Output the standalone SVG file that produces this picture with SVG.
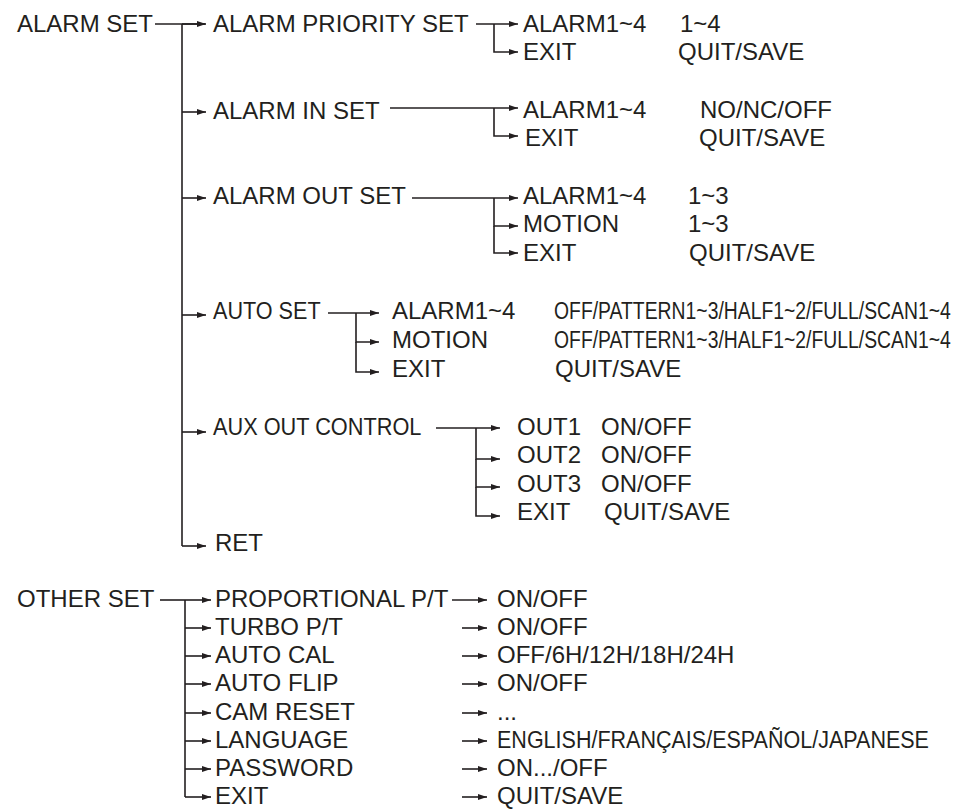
<svg xmlns="http://www.w3.org/2000/svg" width="963" height="809" viewBox="0 0 963 809">
<defs>
<marker id="ah" markerUnits="userSpaceOnUse" markerWidth="10" markerHeight="8" refX="9" refY="3" orient="auto">
<path d="M0,0 L9,3 L0,6 z" fill="#231f20"/>
</marker>
</defs>
<style>
text{font-family:"Liberation Sans",Arial,Helvetica,sans-serif;font-size:24px;fill:#231f20}
.c path,.c line{fill:none;stroke:#231f20;stroke-width:1.6}
.a{marker-end:url(#ah)}
</style>
<rect width="963" height="809" fill="#fff"/>
<g class="c" id="connectors">
<path d="M155,24 H205"/>
<path d="M182,24 V546"/>
<path class="a" d="M182,24 H206"/>
<path class="a" d="M182,112 H206"/>
<path class="a" d="M182,198 H206"/>
<path class="a" d="M182,315 H206"/>
<path class="a" d="M182,432 H206"/>
<path class="a" d="M182,546 H206"/>
<path class="a" d="M476,24 H518"/>
<path class="a" d="M494,24 V52 H518"/>
<path class="a" d="M390,108 H518"/>
<path class="a" d="M494,108 V136 H518"/>
<path class="a" d="M412,198 H518"/>
<path class="a" d="M494,198 V226 H518"/>
<path class="a" d="M494,226 V253 H518"/>
<path class="a" d="M328,313 H379"/>
<path class="a" d="M356,313 V342 H379"/>
<path class="a" d="M356,342 V372 H379"/>
<path class="a" d="M436,428 H500"/>
<path class="a" d="M476,428 V459 H500"/>
<path class="a" d="M476,459 V487 H500"/>
<path class="a" d="M476,487 V516 H500"/>
<path d="M160,600 H185"/>
<path d="M185,600 V797"/>
<path class="a" d="M185,600 H211"/>
<path class="a" d="M185,628 H211"/>
<path class="a" d="M185,656 H211"/>
<path class="a" d="M185,684 H211"/>
<path class="a" d="M185,713 H211"/>
<path class="a" d="M185,741 H211"/>
<path class="a" d="M185,769 H211"/>
<path class="a" d="M185,797 H211"/>
<path class="a" d="M452,600 H487"/>
<path class="a" d="M462,628 H487"/>
<path class="a" d="M462,656 H487"/>
<path class="a" d="M462,684 H487"/>
<path class="a" d="M462,713 H487"/>
<path class="a" d="M462,741 H487"/>
<path class="a" d="M462,769 H487"/>
<path class="a" d="M462,797 H487"/>
</g>
<g id="alarm-set"><text x="17" y="32">ALARM SET</text></g>
<g id="alarm-priority-set"><text x="213" y="32">ALARM PRIORITY SET</text></g>
<g id="aps-alarm"><text x="523" y="32">ALARM1~4</text><text x="680" y="32">1~4</text></g>
<g id="aps-exit"><text x="523" y="60">EXIT</text><text x="678" y="60">QUIT/SAVE</text></g>
<g id="alarm-in-set"><text x="213" y="119">ALARM IN SET</text></g>
<g id="ais-alarm"><text x="523" y="118">ALARM1~4</text><text x="700" y="118">NO/NC/OFF</text></g>
<g id="ais-exit"><text x="525" y="146">EXIT</text><text x="699" y="146">QUIT/SAVE</text></g>
<g id="alarm-out-set"><text x="213" y="204">ALARM OUT SET</text></g>
<g id="aos-alarm"><text x="523" y="204">ALARM1~4</text><text x="688" y="204">1~3</text></g>
<g id="aos-motion"><text x="523" y="232">MOTION</text><text x="688" y="232">1~3</text></g>
<g id="aos-exit"><text x="523" y="261">EXIT</text><text x="689" y="261">QUIT/SAVE</text></g>
<g id="auto-set"><text transform="translate(213,319) scale(0.9,1)">AUTO SET</text></g>
<g id="as-alarm"><text x="392" y="319">ALARM1~4</text><text transform="translate(554,319) scale(0.807,1)">OFF/PATTERN1~3/HALF1~2/FULL/SCAN1~4</text></g>
<g id="as-motion"><text x="392" y="348">MOTION</text><text transform="translate(554,348) scale(0.807,1)">OFF/PATTERN1~3/HALF1~2/FULL/SCAN1~4</text></g>
<g id="as-exit"><text x="392" y="377">EXIT</text><text x="555" y="377">QUIT/SAVE</text></g>
<g id="aux-out-control"><text transform="translate(213,435) scale(0.906,1)">AUX OUT CONTROL</text></g>
<g id="aux-out1"><text x="517" y="435">OUT1</text><text x="601" y="435">ON/OFF</text></g>
<g id="aux-out2"><text x="517" y="463">OUT2</text><text x="601" y="463">ON/OFF</text></g>
<g id="aux-out3"><text x="517" y="492">OUT3</text><text x="601" y="492">ON/OFF</text></g>
<g id="aux-exit"><text x="517" y="520">EXIT</text><text x="604" y="520">QUIT/SAVE</text></g>
<g id="ret"><text x="215" y="551">RET</text></g>
<g id="other-set"><text x="17" y="607">OTHER SET</text></g>
<g id="proportional"><text x="215" y="607">PROPORTIONAL P/T</text></g>
<g id="turbo"><text x="215" y="635">TURBO P/T</text></g>
<g id="auto-cal"><text x="215" y="663">AUTO CAL</text></g>
<g id="auto-flip"><text x="215" y="691">AUTO FLIP</text></g>
<g id="cam-reset"><text x="215" y="720">CAM RESET</text></g>
<g id="language"><text x="215" y="748">LANGUAGE</text></g>
<g id="password"><text x="215" y="776">PASSWORD</text></g>
<g id="os-exit"><text x="215" y="804">EXIT</text></g>
<g id="v-proportional"><text x="497" y="607">ON/OFF</text></g>
<g id="v-turbo"><text x="497" y="635">ON/OFF</text></g>
<g id="v-auto-cal"><text x="497" y="663">OFF/6H/12H/18H/24H</text></g>
<g id="v-auto-flip"><text x="497" y="691">ON/OFF</text></g>
<g id="v-cam-reset"><text x="497" y="720">...</text></g>
<g id="v-language"><text transform="translate(497,748) scale(0.897,1)">ENGLISH/FRANÇAIS/ESPAÑOL/JAPANESE</text></g>
<g id="v-password"><text x="497" y="776">ON.../OFF</text></g>
<g id="v-exit"><text x="497" y="804">QUIT/SAVE</text></g>
</svg>
